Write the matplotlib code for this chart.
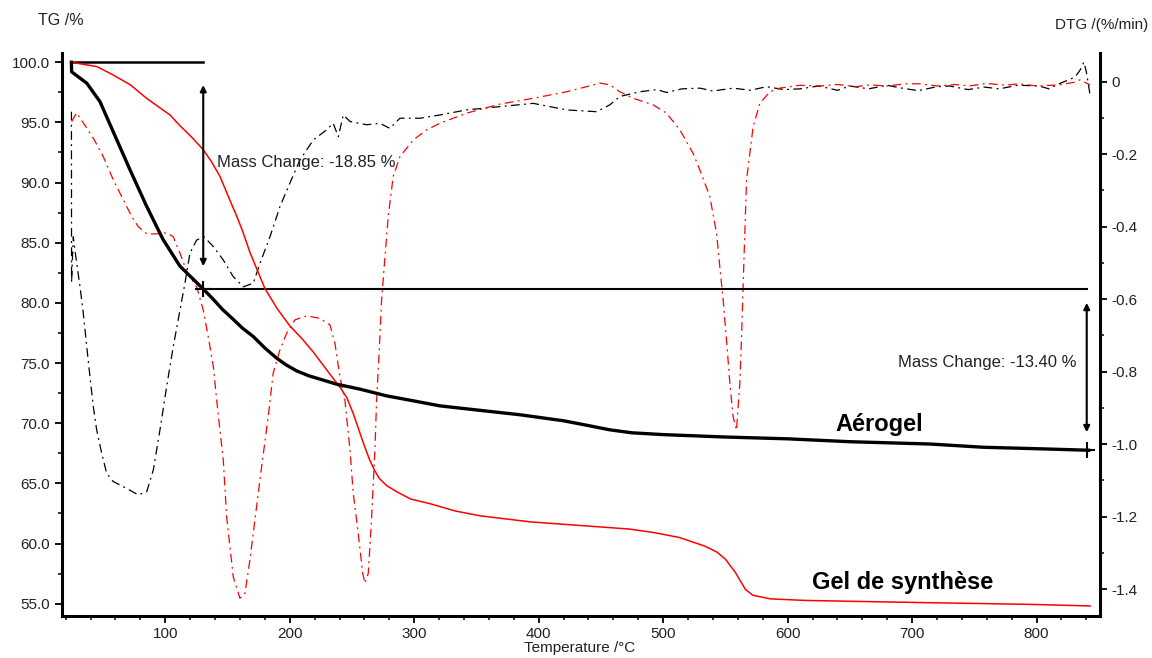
import matplotlib
matplotlib.use("Agg")
import matplotlib.pyplot as plt
from matplotlib.ticker import MultipleLocator, FixedLocator

plt.rcParams["font.family"] = ["Liberation Sans", "DejaVu Sans"]

# ---- TG, aérogel (thick black) ----
AERO_T = [24.5, 24.8, 36.9, 47.5, 61.0, 71.6, 85.0, 98.2, 111.8, 130.5, 138.6, 146.0,
          154.6, 162.0, 170.7, 180.0, 189.5, 197.0, 205.5, 215.0, 224.3, 237.7, 256.4,
          277.8, 299.2, 320.6, 350, 385, 420, 440, 457, 475, 500, 550, 600, 650, 714, 757,
          810, 842]
AERO_TG = [100.0, 99.2, 98.26, 96.73, 93.56, 91.07, 88.03, 85.27, 83.05, 81.15, 80.29, 79.45,
           78.63, 77.9, 77.2, 76.25, 75.4, 74.85, 74.35, 73.95, 73.66, 73.24, 72.83,
           72.27, 71.86, 71.44, 71.1, 70.7, 70.2, 69.8, 69.45, 69.2, 69.05, 68.85, 68.7,
           68.46, 68.27, 68.0, 67.85, 67.75]

# ---- TG, gel de synthèse (thin red) ----
GEL_T = [25, 26, 45, 58, 72, 85, 104, 112, 121, 130.5, 137, 144, 150, 157, 162, 168, 174,
         180, 190, 200, 210, 219, 227, 235, 241, 246, 251, 256, 260, 264, 268, 272, 278,
         286, 297, 313, 333, 353, 393, 433, 473, 493, 513, 533, 543, 550, 558, 566, 572,
         586, 614, 654, 714, 795, 843]
GEL_TG = [100.0, 99.97, 99.64, 98.95, 98.12, 97.0, 95.6, 94.7, 93.8, 92.73, 91.75, 90.5,
          89.0, 87.3, 86.0, 84.2, 82.7, 81.2, 79.5, 78.1, 77.0, 75.9, 74.8, 73.7, 72.9,
          72.1, 70.8, 69.3, 68.1, 67.0, 66.1, 65.4, 64.8, 64.3, 63.7, 63.3, 62.7, 62.3,
          61.8, 61.5, 61.2, 60.9, 60.5, 59.8, 59.3, 58.7, 57.6, 56.2, 55.7, 55.4, 55.27,
          55.19, 55.08, 54.94, 54.81]

# ---- DTG, aérogel (black dash-dot) ----
AERO_DT = [24.6, 24.7, 25.6, 26.1, 28.0, 31.5, 34.1, 36.9, 39.5, 42.2, 44.9, 48.9, 52.9,
           58.2, 69.0, 78.3, 85.1, 90.4, 95.7, 101.1, 106.4, 111.8, 115.8, 119.8, 125.2,
           131.1, 138.6, 146.6, 154.6, 162.7, 170.7, 176.1, 184.1, 192.1, 200.1, 208.2,
           218.9, 229.6, 234.9, 239.0, 243.0, 248.4, 261.8, 272.4, 280.5, 288.5, 304.6,
           320.6, 342.1, 368.8, 395.6, 422.4, 446.5, 457.2, 465.2, 481.3, 495, 502.7, 515,
           529.5, 540, 556.2, 570, 583.1, 597, 610, 625, 640, 650, 665, 680, 690, 705, 720,
           730, 745, 758, 770, 785, 802, 810, 818, 826, 831, 835, 838, 840, 843]
AERO_DTG = [-0.083, -0.555, -0.47, -0.428, -0.48, -0.566, -0.638, -0.731, -0.814, -0.897,
            -0.961, -1.025, -1.080, -1.103, -1.122, -1.140, -1.131, -1.071, -0.961, -0.841,
            -0.731, -0.630, -0.556, -0.473, -0.437, -0.428, -0.455, -0.492, -0.538, -0.566,
            -0.556, -0.501, -0.428, -0.345, -0.280, -0.216, -0.161, -0.133, -0.115, -0.152,
            -0.092, -0.110, -0.119, -0.115, -0.129, -0.101, -0.101, -0.092, -0.078, -0.069,
            -0.060, -0.078, -0.083, -0.064, -0.041, -0.028, -0.022, -0.030, -0.020, -0.018,
            -0.026, -0.018, -0.024, -0.014, -0.022, -0.020, -0.012, -0.024, -0.012, -0.020,
            -0.010, -0.017, -0.025, -0.014, -0.012, -0.022, -0.015, -0.020, -0.010, -0.012,
            -0.020, -0.006, 0.005, 0.013, 0.032, 0.054, 0.027, -0.037]

# ---- DTG, gel de synthèse (red dash-dot) ----
GEL_DT = [24.8, 28.8, 42.2, 50.2, 58.2, 66.3, 73.0, 78.3, 85.1, 93.1, 101.1, 106.4, 111.8,
          117.2, 125.2, 130.5, 134.5, 138.6, 141.3, 143.9, 146.6, 149.3, 154.6, 160.0, 164.0,
          168.0, 172.0, 177.4, 182.7, 186.7, 192.1, 197.5, 204.2, 213.6, 224.3, 232.3, 236.3,
          240.3, 244.3, 248.4, 251.0, 255.0, 258.6, 260.4, 263.1, 265.8, 268.4, 269.8, 271.9,
          273.8, 276.5, 279.1, 283.1, 288.5, 299.2, 310.0, 320.6, 342.1, 368.8, 395.6, 422.4,
          438.5, 449.2, 457.2, 465.2, 475.9, 492.0, 502.7, 513.4, 524.1, 529.5, 537.5, 542.9,
          545.5, 548.2, 550.9, 553.6, 556.2, 558.9, 561.6, 563.0, 564.3, 565.6, 567.0, 572.3,
          577.7, 585.7, 593.7, 610, 626, 640, 655, 666, 680, 695, 706, 720, 735, 746, 760,
          775, 786, 800, 818, 830, 835, 840, 843]
GEL_DTG = [-0.110, -0.086, -0.156, -0.207, -0.271, -0.326, -0.372, -0.400, -0.420, -0.420,
           -0.417, -0.428, -0.473, -0.524, -0.566, -0.630, -0.703, -0.786, -0.878, -0.961,
           -1.044, -1.200, -1.366, -1.425, -1.411, -1.319, -1.209, -1.062, -0.924, -0.804,
           -0.740, -0.694, -0.657, -0.646, -0.653, -0.671, -0.722, -0.814, -0.878, -1.016,
           -1.135, -1.246, -1.356, -1.384, -1.356, -1.200, -1.016, -0.878, -0.740, -0.602,
           -0.483, -0.372, -0.262, -0.207, -0.161, -0.133, -0.115, -0.087, -0.062, -0.046,
           -0.028, -0.014, -0.004, -0.009, -0.028, -0.046, -0.064, -0.087, -0.133, -0.198,
           -0.244, -0.317, -0.418, -0.510, -0.602, -0.713, -0.832, -0.924, -0.961, -0.832,
           -0.703, -0.556, -0.418, -0.271, -0.124, -0.060, -0.028, -0.018, -0.010, -0.012,
           -0.008, -0.014, -0.009, -0.012, -0.006, -0.006, -0.012, -0.008, -0.012, -0.005,
           -0.010, -0.006, -0.012, -0.009, -0.002, 0.005, -0.004, -0.009]

# mass-change steps read on the aérogel curve
STEP_T = [130.5, 840.3]
MASS_CHANGE = [-18.85, -13.40]

X_TICKS = [100, 200, 300, 400, 500, 600, 700, 800]
TG_TICKS = [55, 60, 65, 70, 75, 80, 85, 90, 95, 100]
DTG_TICKS = [0, -0.2, -0.4, -0.6, -0.8, -1.0, -1.2, -1.4]

fig = plt.figure(figsize=(11.52, 6.58), dpi=100)
ax = fig.add_axes([0.0538, 0.0643, 0.9011, 0.8552])
ax2 = ax.twinx()

dashdot = (0, (7, 3.5, 1.5, 3.5))
ax2.plot(AERO_DT, AERO_DTG, color="black", lw=0.9, linestyle=dashdot)
ax2.plot(GEL_DT, GEL_DTG, color="red", lw=0.9, linestyle=dashdot)

ax.plot(GEL_T, GEL_TG, color="red", lw=1.1, zorder=3)
ax.plot(AERO_T, AERO_TG, color="black", lw=2.4, zorder=4)
ax.set_zorder(ax2.get_zorder() + 1)
ax.patch.set_visible(False)

# mass change construction
lvl0 = AERO_TG[0]
lvl1 = lvl0 + MASS_CHANGE[0]
lvl2 = lvl1 + MASS_CHANGE[1]
ax.plot([AERO_T[0], STEP_T[0]], [lvl0, lvl0], color="black", lw=1.8)
ax.plot([STEP_T[0], STEP_T[1]], [lvl1, lvl1], color="black", lw=1.5)
ax.plot(STEP_T, [lvl1, lvl2], linestyle="none", marker="+", ms=11, mew=1.5, color="black",
        zorder=6)
arrow = dict(arrowstyle="<|-|>", color="black", lw=1.5, mutation_scale=9,
             shrinkA=0, shrinkB=0)
ax.annotate("", xy=(STEP_T[0], lvl0 - 1.9), xytext=(STEP_T[0], lvl1 + 1.9), arrowprops=arrow)
ax.annotate("", xy=(STEP_T[1], lvl1 - 1.15), xytext=(STEP_T[1], lvl2 + 1.5), arrowprops=arrow)
ax.text(STEP_T[0] + 11, 91.65, f"Mass Change: {MASS_CHANGE[0]:.2f} %", fontsize=12,
        ha="left", va="center", color="#222222")
ax.text(STEP_T[1] - 8.3, 75.04, f"Mass Change: {MASS_CHANGE[1]:.2f} %", fontsize=12,
        ha="right", va="center", color="#222222")

ax.text(638.7, 69.9, "Aérogel", fontsize=17, fontweight="bold", ha="left", va="center")
ax.text(619.5, 56.8, "Gel de synthèse", fontsize=17, fontweight="bold", ha="left", va="center")

# axes
ax.set_xlim(17, 851)
ax.set_ylim(54.0, 100.77)
ax2.set_ylim(-1.473, 0.079)

ax.xaxis.set_major_locator(FixedLocator(X_TICKS))
ax.xaxis.set_minor_locator(MultipleLocator(20))
ax.yaxis.set_major_locator(FixedLocator(TG_TICKS))
ax.yaxis.set_minor_locator(MultipleLocator(2.5))
ax.set_yticklabels([f"{v:.1f}" for v in TG_TICKS])
ax2.yaxis.set_major_locator(FixedLocator(DTG_TICKS))
ax2.yaxis.set_minor_locator(MultipleLocator(0.1))
ax2.set_yticklabels(["0"] + [f"{v:.1f}" for v in DTG_TICKS[1:]])

for a in (ax, ax2):
    a.spines["top"].set_visible(False)
    for s in ("left", "right", "bottom"):
        a.spines[s].set_linewidth(2.2)
    a.tick_params(which="major", direction="out", length=5, width=1.3, labelsize=11,
                  labelcolor="#222222")
    a.tick_params(which="minor", direction="out", length=3, width=1.1)
ax.spines["right"].set_visible(False)
ax2.spines["left"].set_visible(False)
ax2.spines["bottom"].set_visible(False)

fig.text(0.033, 0.969, "TG /%", fontsize=11.5, ha="left", va="center", color="#222222")
fig.text(0.997, 0.962, "DTG /(%/min)", fontsize=11, ha="right", va="center", color="#222222")
fig.text(0.503, 0.015, "Temperature /°C", fontsize=11, ha="center", va="center", color="#222222")

fig.savefig("out.png", dpi=100)
